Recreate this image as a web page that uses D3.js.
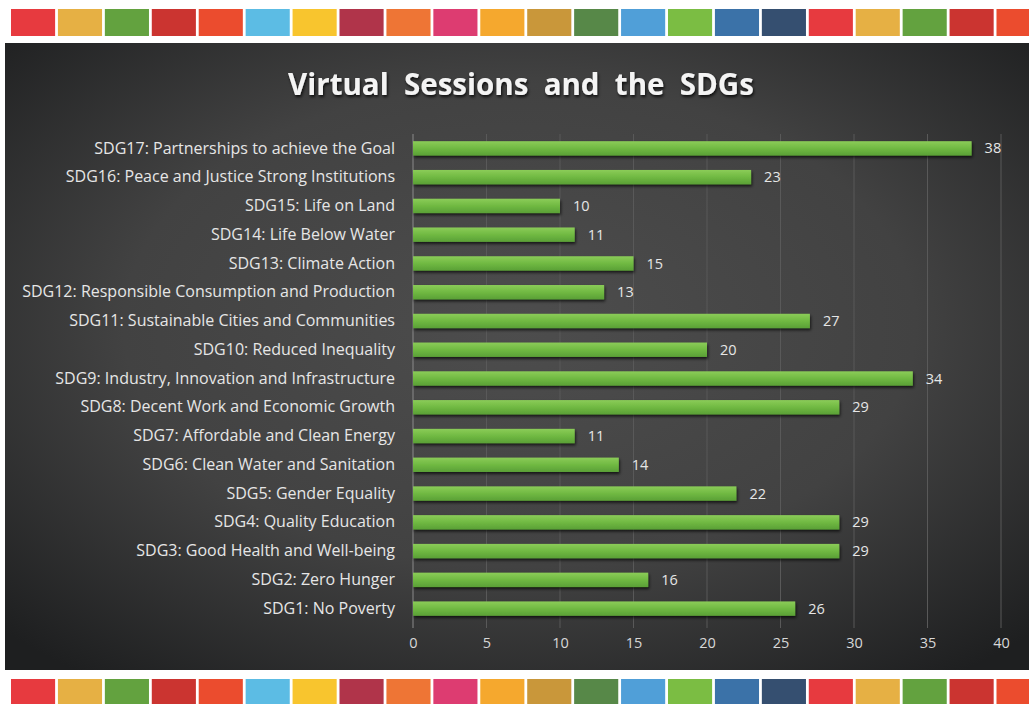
<!DOCTYPE html>
<html>
<head>
<meta charset="utf-8">
<script src="https://cdn.jsdelivr.net/npm/d3@7"></script>
<style>
  body { margin: 0; background: #fff; }
  svg { display: block; }
</style>
</head>
<body>
<div id="chart"></div>
<script>
// data
var categories = [
    "SDG17: Partnerships to achieve the Goal",
    "SDG16: Peace and Justice Strong Institutions",
    "SDG15: Life on Land",
    "SDG14: Life Below Water",
    "SDG13: Climate Action",
    "SDG12: Responsible Consumption and Production",
    "SDG11: Sustainable Cities and Communities",
    "SDG10: Reduced Inequality",
    "SDG9: Industry, Innovation and Infrastructure",
    "SDG8: Decent Work and Economic Growth",
    "SDG7: Affordable and Clean Energy",
    "SDG6: Clean Water and Sanitation",
    "SDG5: Gender Equality",
    "SDG4: Quality Education",
    "SDG3: Good Health and Well-being",
    "SDG2: Zero Hunger",
    "SDG1: No Poverty"
];
var sessions = [38, 23, 10, 11, 15, 13, 27, 20, 34, 29, 11, 14, 22, 29, 29, 16, 26];
var xTicks = [0, 5, 10, 15, 20, 25, 30, 35, 40];
var title = "Virtual  Sessions  and  the  SDGs";

// the colour squares along top and bottom (SDG 1..17 then again)
var sdgColors = ["#e73a3f", "#e6b044", "#63a23f", "#cb3430", "#eb4c2e", "#5cbce4", "#f8c52e",
    "#b0344a", "#ee7535", "#dd3c71", "#f5a82e", "#c9973a", "#578848", "#509fd8", "#7bbd43",
    "#3b72a8", "#354f70", "#e73a3f", "#e6b044", "#63a23f", "#cb3430", "#eb4c2e"];

var width = 1029, height = 704;

var svg = d3.select("#chart").append("svg")
    .attr("width", width)
    .attr("height", height);

var defs = svg.append("defs");

var bg = defs.append("radialGradient")
    .attr("id", "bg")
    .attr("cx", "50%").attr("cy", "45%").attr("r", "70%");
bg.append("stop").attr("offset", "0%").attr("stop-color", "#4d4d4d");
bg.append("stop").attr("offset", "55%").attr("stop-color", "#424242");
bg.append("stop").attr("offset", "100%").attr("stop-color", "#1e1f20");

var barGrad = defs.append("linearGradient")
    .attr("id", "barGrad")
    .attr("x1", 0).attr("y1", 0).attr("x2", 0).attr("y2", 1);
barGrad.append("stop").attr("offset", "0%").attr("stop-color", "#8bcc58");
barGrad.append("stop").attr("offset", "50%").attr("stop-color", "#70b942");
barGrad.append("stop").attr("offset", "100%").attr("stop-color", "#5aa036");

var shadow = defs.append("filter").attr("id", "shadow")
    .attr("x", "-5%").attr("y", "-30%").attr("width", "110%").attr("height", "180%");
shadow.append("feDropShadow")
    .attr("dx", 1).attr("dy", 2).attr("stdDeviation", 1.5)
    .attr("flood-color", "#000").attr("flood-opacity", 0.7);

var tshadow = defs.append("filter").attr("id", "tshadow")
    .attr("x", "-5%").attr("y", "-30%").attr("width", "110%").attr("height", "180%");
tshadow.append("feDropShadow")
    .attr("dx", 1).attr("dy", 2).attr("stdDeviation", 1.5)
    .attr("flood-color", "#000").attr("flood-opacity", 0.8);

// colour strips
var squares = d3.scaleBand()
    .domain(d3.range(sdgColors.length))
    .range([11, 11 + 46.8 * sdgColors.length])
    .paddingInner(0.06);

[[9, 27], [679, 30]].forEach(function (s) {
    svg.append("g").selectAll("rect")
        .data(sdgColors)
        .enter().append("rect")
        .attr("x", function (d, i) { return squares(i); })
        .attr("y", s[0])
        .attr("width", squares.bandwidth())
        .attr("height", s[1])
        .attr("fill", function (d) { return d; });
});

// dark panel
svg.append("rect")
    .attr("x", 5).attr("y", 43)
    .attr("width", width).attr("height", 627)
    .attr("fill", "url(#bg)");

svg.append("text")
    .attr("x", 521).attr("y", 95)
    .attr("text-anchor", "middle")
    .attr("fill", "#f4f4f4")
    .attr("font-family", "Open Sans, sans-serif")
    .attr("font-weight", "bold")
    .attr("font-size", 29.5)
    .attr("filter", "url(#tshadow)")
    .style("white-space", "pre")
    .text(title);

var x = d3.scaleLinear().domain([0, 40]).range([413, 1001]);
var y = d3.scaleBand().domain(categories).range([134, 623]).paddingInner(0.5).paddingOuter(0.25);

// gridlines
svg.append("g").selectAll("line")
    .data(xTicks)
    .enter().append("line")
    .attr("x1", function (d) { return x(d); })
    .attr("x2", function (d) { return x(d); })
    .attr("y1", 134).attr("y2", 628)
    .attr("stroke", function (d) { return d === 0 ? "#8a8a8a" : "#595959"; })
    .attr("stroke-width", 1);

var xAxis = svg.append("g")
    .attr("transform", "translate(0,628)")
    .call(d3.axisBottom(x).tickValues(xTicks).tickSize(0).tickPadding(10));
xAxis.select(".domain").remove();
xAxis.selectAll("text")
    .attr("fill", "#d8d8d8")
    .attr("font-family", "Open Sans, sans-serif")
    .attr("font-size", 14.5);

var yAxis = svg.append("g")
    .attr("transform", "translate(395,0)")
    .call(d3.axisLeft(y).tickSize(0).tickPadding(0));
yAxis.select(".domain").remove();
yAxis.selectAll("text")
    .attr("fill", "#e6e6e6")
    .attr("font-family", "Open Sans, sans-serif")
    .attr("font-size", 16);

svg.append("g").selectAll("rect")
    .data(sessions)
    .enter().append("rect")
    .attr("x", x(0))
    .attr("y", function (d, i) { return y(categories[i]); })
    .attr("width", function (d) { return x(d) - x(0); })
    .attr("height", y.bandwidth())
    .attr("fill", "url(#barGrad)")
    .attr("filter", "url(#shadow)");

svg.append("g").selectAll("text")
    .data(sessions)
    .enter().append("text")
    .attr("x", function (d) { return x(d) + 13; })
    .attr("y", function (d, i) { return y(categories[i]) + y.bandwidth() / 2; })
    .attr("dy", "0.35em")
    .attr("fill", "#e6e6e6")
    .attr("font-family", "Open Sans, sans-serif")
    .attr("font-size", 14.5)
    .text(function (d) { return d; });
</script>
</body>
</html>
